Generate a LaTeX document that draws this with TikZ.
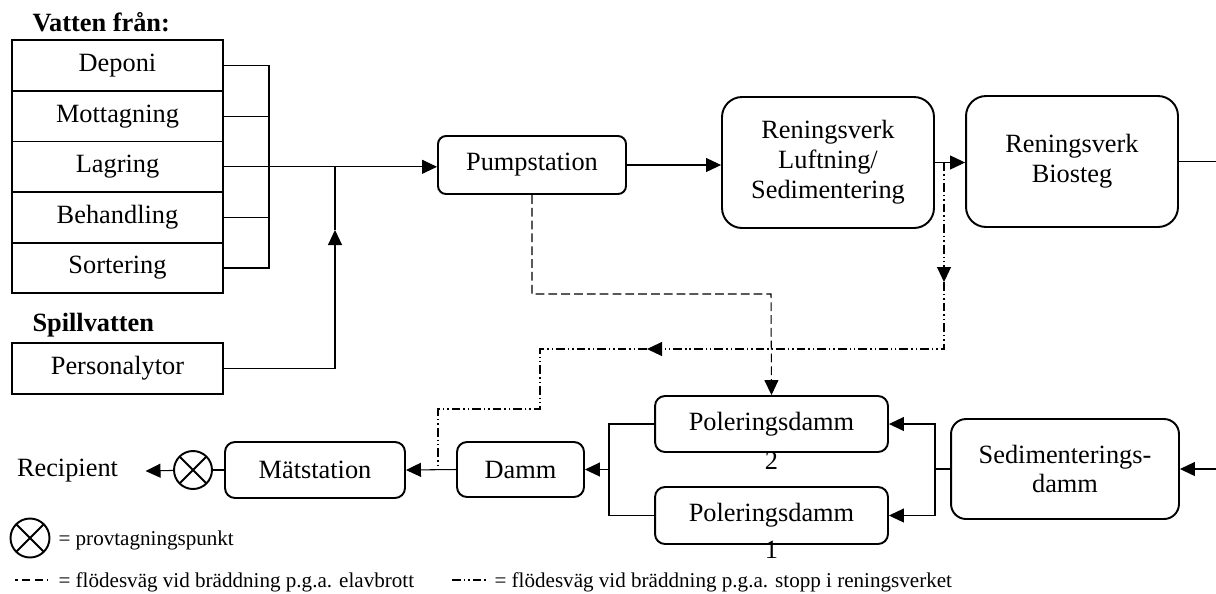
\documentclass[tikz,border=0pt]{standalone}
\usepackage{fontspec}
\setmainfont{Liberation Serif}
\usetikzlibrary{positioning,arrows.meta}

\begin{document}
\begin{tikzpicture}
            [
                x=0.02cm, y=-0.02cm, line width=0.6pt,
                font=\fontsize{15}{17}\selectfont,
                rubrik/.style={font=\fontsize{15}{17}\selectfont\bfseries, inner sep=0pt, anchor=west},
                kalla/.style={draw, line width=1.1pt, minimum width=4.22cm, minimum height=1.012cm, inner sep=0pt},
                steg/.style={draw, line width=1.1pt, rounded corners=0.2cm, align=center, inner sep=0pt},
                flode/.style={-{Triangle[length=0.3cm, width=0.28cm]}},
                elavbrott/.style={dash pattern=on 5pt off 2.3pt},
                stopp/.style={dash pattern=on 5pt off 1.7pt on 0.8pt off 1.7pt on 0.8pt off 1.7pt},
                prov/.style={circle, draw, line width=1.1pt, minimum size=0.76cm, inner sep=0pt,
                    path picture={\draw[line width=1.1pt] (path picture bounding box.north west) -- (path picture bounding box.south east)
                        (path picture bounding box.north east) -- (path picture bounding box.south west);}},
                legend/.style={font=\fontsize{12}{14}\selectfont, inner sep=0pt, anchor=west},
            ]
            %obs: koordinater i pixlar, y nedåt
            \useasboundingbox (0,0) rectangle (1216,593);

            % vatten in
            \node[rubrik] (vatten) at (32,22) {Vatten från:};
            \foreach \namn/\text [count=\i] in {deponi/Deponi, mottagning/Mottagning, lagring/Lagring, behandling/Behandling, sortering/Sortering}
                \node[kalla] (\namn) at (117.5,{15+50.6*\i}) {\text};
            \node[rubrik] (spill) at (32,325) {Spillvatten};
            \node[kalla, minimum height=1.02cm] (personal) at (117.5,368.5) {Personalytor};

            % reningsverket
            \node[steg, rounded corners=0.16cm, minimum width=3.76cm, minimum height=1.16cm] (pump) at (532,165) {Pumpstation};
            \node[steg, rounded corners=0.4cm, minimum width=4.24cm, minimum height=2.62cm] (luft) at (828,162.5) {Reningsverk\\Luftning/\\Sedimentering};
            \node[steg, rounded corners=0.4cm, minimum width=4.24cm, minimum height=2.62cm] (bio) at (1072,161.5) {Reningsverk\\Biosteg};

            % dammar
            \node[steg, rounded corners=0.3cm, minimum width=4.56cm, minimum height=2cm] (sed) at (1065,469) {Sedimenterings-\\damm};
            \node[steg, minimum width=4.66cm, minimum height=1.12cm] (pol2) at (771.5,424) {Poleringsdamm};
            \node (pol2nr) at (771.5,461) {2};
            \node[steg, minimum width=4.66cm, minimum height=1.14cm] (pol1) at (771.5,515.5) {Poleringsdamm};
            \node (pol1nr) at (771.5,550) {1};
            \node[steg, minimum width=2.54cm, minimum height=1.1cm] (damm) at (520.5,469.5) {Damm};
            \node[steg, minimum width=3.6cm, minimum height=1.12cm] (mat) at (315,470) {Mätstation};
            \node[prov] (provpunkt) at (193,470) {};
            \node[inner xsep=0.54cm] (recip) at (67.5,471) {Recipient};

            % flöden
            \coordinate (samla) at (269,166);
            \foreach \namn in {deponi, mottagning, behandling, sortering}
                \draw (\namn.east) -| (samla);
            \draw[flode] (lagring.east) -- (lagring.east -| pump.west);
            \coordinate (korsning) at (335,166);
            \coordinate (pilupp) at (335,230);
            \draw[flode] (personal.east) -| (pilupp);
            \draw (pilupp) -- (korsning);
            \draw[flode] (pump.east) -- (pump.east -| luft.west);
            \draw[flode] (luft.east) -- (luft.east -| bio.west);
            \coordinate (utbio) at (1216,161.5);
            \draw (bio.east) -- (utbio);
            \coordinate (insed) at (1216,469);
            \draw[flode] (insed) -- (sed.east);
            \coordinate (polh) at (935,469);
            \draw (sed.west) -- (polh);
            \draw[flode] (polh) |- (pol2.east);
            \draw[flode] (polh) |- (pol1.east);
            \coordinate (polv) at (609,469.5);
            \draw (pol2.west) -| (polv);
            \draw (pol1.west) -| (polv);
            \draw[flode] (polv) -- (damm.east);
            \draw[flode] (damm.west) -- (mat.east);
            \draw (mat.west) -- (provpunkt);
            \draw[flode] (provpunkt) -- (recip.east);

            % bräddning
            \coordinate (elknä) at (771,294);
            \draw[elavbrott, flode] (pump.south) |- (elknä) -- (pol2.north);
            \coordinate (gren) at (944,162.5);
            \coordinate (stopp1) at (944,282);
            \coordinate (stopp2) at (647,349);
            \coordinate (stopp3) at (540,409);
            \coordinate (stopp4) at (438,470);
            \draw[stopp, flode] (gren) -- (stopp1);
            \draw[stopp, flode] (stopp1) |- (stopp2);
            \draw[stopp] (stopp2) -| (stopp3) -| (stopp4);

            % förklaring
            \node[prov, minimum size=0.78cm] (provtecken) at (30,538) {};
            \node[legend] (provtext) at (58,540) {= provtagningspunkt};
            \coordinate (el1) at (15,580);
            \coordinate (el2) at (48,580);
            \draw[elavbrott, dash phase=3.5pt] (el1) -- (el2);
            \node[legend] (eltext) at (58,582) {= flödesväg vid bräddning p.g.a. elavbrott};
            \coordinate (st1) at (452,580);
            \coordinate (st2) at (488,580);
            \draw[stopp] (st1) -- (st2);
            \node[legend] (sttext) at (494,582) {= flödesväg vid bräddning p.g.a. stopp i reningsverket};
        \end{tikzpicture}
\end{document}
